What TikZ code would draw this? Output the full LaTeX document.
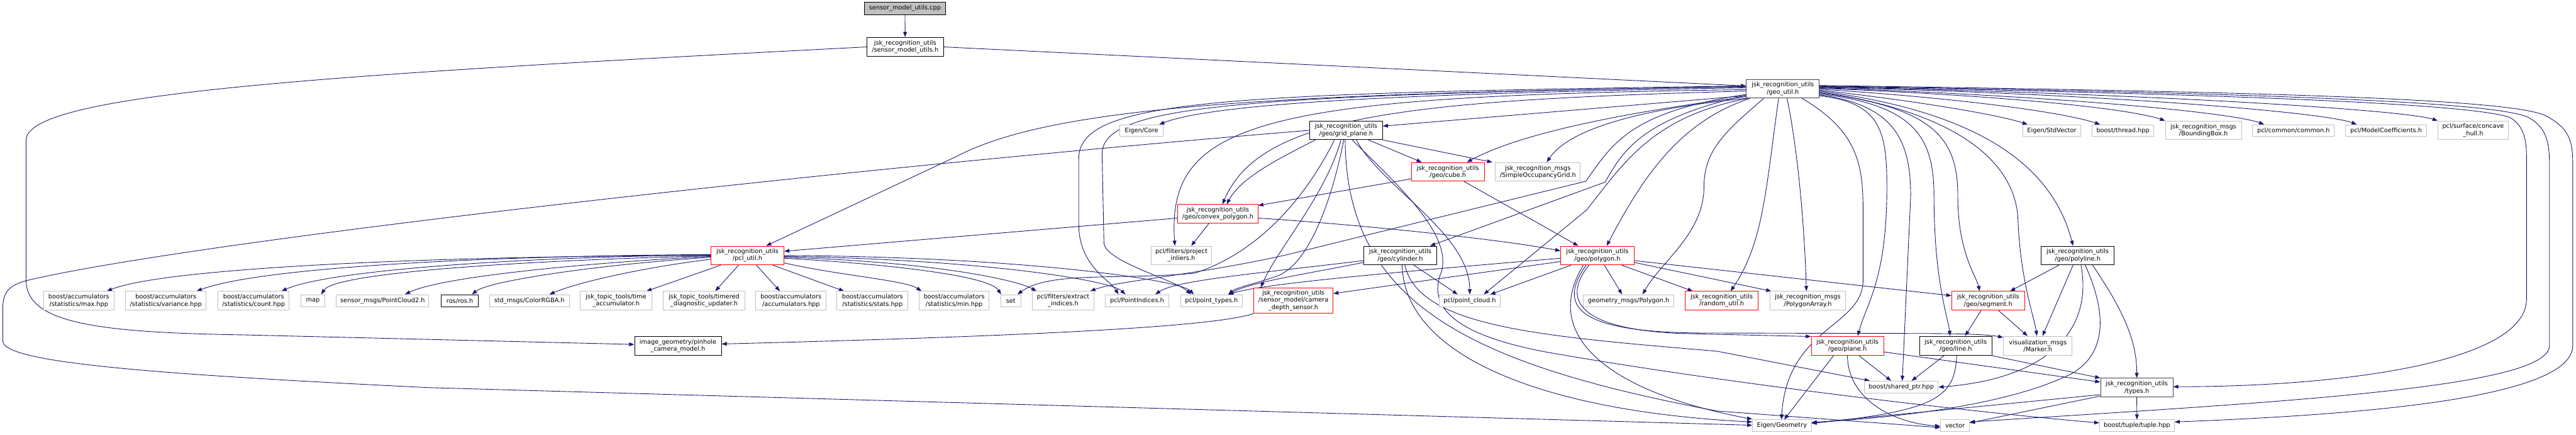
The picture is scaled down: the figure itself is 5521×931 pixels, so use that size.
\documentclass[tikz,border=0pt]{standalone}
\usepackage{fontspec}
\setmainfont{DejaVu Sans}
\usetikzlibrary{arrows.meta}
\definecolor{edgeblue}{HTML}{191970}
\definecolor{extgray}{HTML}{BFBFBF}
\definecolor{darkgr}{HTML}{404040}
\definecolor{cppfill}{HTML}{BFBFBF}
\pgfdeclarelayer{bg}
\pgfsetlayers{bg,main}
\newcommand{\nodefont}{\fontsize{13.2pt}{15pt}\selectfont}
\tikzset{
  box/.style={draw=black, line width=1.3pt, fill=white, inner sep=0pt, align=center, font=\nodefont},
  ext/.style={box, draw=extgray},
  trunc/.style={box, draw=red},
  dk/.style={box, draw=darkgr},
  sz/.style 2 args={minimum width=#1pt, minimum height=#2pt},
  e/.style={draw=edgeblue, line width=1.2pt, -{Triangle[length=11pt,width=8pt]}},
}
\begin{document}
\begin{tikzpicture}[x=1pt,y=-1pt]
\useasboundingbox (0,0) rectangle (5521,931);
% ---------------- nodes ----------------
\node[box, fill=cppfill, sz={175}{26}] (cpp) at (1939.5,18) {sensor\_model\_utils.cpp};
\node[box, sz={164}{41}] (smu) at (1940,100.5) {jsk\_recognition\_utils\\/sensor\_model\_utils.h};
\node[dk, sz={156}{40}] (geo) at (3821,190) {jsk\_recognition\_utils\\/geo\_util.h};
\node[ext, sz={93}{25}] (eigencore) at (2446.5,279.5) {Eigen/Core};
\node[box, sz={156}{40}] (gp) at (2885,279) {jsk\_recognition\_utils\\/geo/grid\_plane.h};
\node[trunc, sz={156}{40}] (cube) at (3103,368) {jsk\_recognition\_utils\\/geo/cube.h};
\node[ext, sz={182}{40}] (socc) at (3296,368) {jsk\_recognition\_msgs\\/SimpleOccupancyGrid.h};
\node[ext, sz={125}{25}] (stdvector) at (4397.5,279.5) {Eigen/StdVector};
\node[ext, sz={132}{25}] (thread) at (4550,279.5) {boost/thread.hpp};
\node[ext, sz={163}{40}] (bbox) at (4722.5,279) {jsk\_recognition\_msgs\\/BoundingBox.h};
\node[ext, sz={175}{25}] (common) at (4915.5,279.5) {pcl/common/common.h};
\node[ext, sz={174}{25}] (modelcoef) at (5114,279.5) {pcl/ModelCoefficients.h};
\node[ext, sz={151}{40}] (concave) at (5300.5,279) {pcl/surface/concave\\\_hull.h};
\node[trunc, sz={172}{40}] (convex) at (2610,458) {jsk\_recognition\_utils\\/geo/convex\_polygon.h};
\node[ext, sz={130}{40}] (projinl) at (2532,547) {pcl/filters/project\\\_inliers.h};
\node[trunc, sz={156}{40}] (pclutil) at (1602,547) {jsk\_recognition\_utils\\/pcl\_util.h};
\node[box, sz={156}{40}] (cylinder) at (3001,547) {jsk\_recognition\_utils\\/geo/cylinder.h};
\node[trunc, sz={157}{40}] (polygon) at (3423.5,547) {jsk\_recognition\_utils\\/geo/polygon.h};
\node[box, sz={156}{40}] (polyline) at (4453,547) {jsk\_recognition\_utils\\/geo/polyline.h};
\node[ext, sz={150}{40}] (max) at (169,644) {boost/accumulators\\/statistics/max.hpp};
\node[ext, sz={173}{40}] (variance) at (355.5,644) {boost/accumulators\\/statistics/variance.hpp};
\node[ext, sz={153}{40}] (count) at (543.5,644) {boost/accumulators\\/statistics/count.hpp};
\node[ext, sz={51}{26}] (map) at (670.5,644) {map};
\node[ext, sz={198}{26}] (pc2) at (820,644) {sensor\_msgs/PointCloud2.h};
\node[box, sz={79}{26}] (ros) at (985.5,644) {ros/ros.h};
\node[ext, sz={171}{26}] (colorrgba) at (1134.5,644) {std\_msgs/ColorRGBA.h};
\node[ext, sz={153}{40}] (timeacc) at (1320.5,644) {jsk\_topic\_tools/time\\\_accumulator.h};
\node[ext, sz={176}{40}] (timered) at (1509,644) {jsk\_topic\_tools/timered\\\_diagnostic\_updater.h};
\node[ext, sz={151}{40}] (accum) at (1695.5,644) {boost/accumulators\\/accumulators.hpp};
\node[ext, sz={152}{40}] (stats) at (1870,644) {boost/accumulators\\/statistics/stats.hpp};
\node[ext, sz={150}{40}] (min) at (2045,644) {boost/accumulators\\/statistics/min.hpp};
\node[ext, sz={43}{26}] (set) at (2166.5,644) {set};
\node[ext, sz={133}{40}] (extract) at (2278.5,644) {pcl/filters/extract\\\_indices.h};
\node[ext, sz={136}{26}] (pointindices) at (2437,644) {pcl/PointIndices.h};
\node[ext, sz={133}{26}] (pointtypes) at (2596.5,644) {pcl/point\_types.h};
\node[trunc, sz={170}{55}] (camdepth) at (2772,643.5) {jsk\_recognition\_utils\\/sensor\_model/camera\\\_depth\_sensor.h};
\node[ext, sz={132}{26}] (pointcloud) at (3150,644) {pcl/point\_cloud.h};
\node[ext, sz={195}{26}] (geopolygon) at (3490.5,644) {geometry\_msgs/Polygon.h};
\node[trunc, sz={156}{40}] (random) at (3690,644) {jsk\_recognition\_utils\\/random\_util.h};
\node[ext, sz={163}{40}] (polyarray) at (3874.5,644) {jsk\_recognition\_msgs\\/PolygonArray.h};
\node[trunc, sz={156}{40}] (segment) at (4261,644) {jsk\_recognition\_utils\\/geo/segment.h};
\node[box, sz={186}{41}] (pinhole) at (1453,740.5) {image\_geometry/pinhole\\\_camera\_model.h};
\node[trunc, sz={155}{41}] (plane) at (3959.5,740.5) {jsk\_recognition\_utils\\/geo/plane.h};
\node[box, sz={155}{41}] (line) at (4191.5,740.5) {jsk\_recognition\_utils\\/geo/line.h};
\node[ext, sz={147}{41}] (marker) at (4367.5,740.5) {visualization\_msgs\\/Marker.h};
\node[ext, sz={158}{26}] (sharedptr) at (4075,829) {boost/shared\_ptr.hpp};
\node[dk, sz={155}{40}] (types) at (4579.5,830) {jsk\_recognition\_utils\\/types.h};
\node[ext, sz={126}{25}] (eigengeo) at (3819,911.5) {Eigen/Geometry};
\node[ext, sz={62}{25}] (vector) at (4190,911.5) {vector};
\node[ext, sz={160}{25}] (tuple) at (4580,911.5) {boost/tuple/tuple.hpp};
% ---------------- edges ----------------
\begin{pgfonlayer}{bg}
\fill[white] (0,0) rectangle (5521,931);
% cpp / smu
\draw[e] (cpp) -- (smu);
\draw[e] (smu.east) -- ([yshift=6pt]geo.west);
\draw[e] (smu.west) .. controls (700,160) and (56,200) .. (56,300) -- (56,600) .. controls (56,690) and (200,712) .. (520,717) -- ([yshift=3pt]pinhole.west);
% grid plane loop to Eigen/Geometry
\draw[e] (gp.west) .. controls (1700,370) and (400,520) .. (60,600) .. controls (20,610) and (6,625) .. (6,660) -- (6,730) .. controls (6,775) and (300,800) .. (920,830) -- ([yshift=1pt]eigengeo.west);
% geo_util left side
\draw[e] ([yshift=2pt]geo.west) .. controls (3000,200) and (2600,222) .. ([xshift=38pt]eigencore.north);
\draw[e] ([yshift=-15pt]geo.west) -- ([yshift=9pt]gp.east);
\draw[e] ([yshift=-17pt]geo.west) .. controls (3450,245) and (3250,290) .. ([xshift=41pt]cube.north);
\draw[e] (geo.south west) .. controls (3500,235) and (3360,280) .. ([xshift=19pt]socc.north);
\draw[e] ([yshift=-5pt]geo.west) .. controls (3000,215) and (2700,250) .. ([xshift=10pt]convex.north);
\draw[e] ([yshift=4pt]geo.west) .. controls (2700,200) and (2250,230) .. (2050,335) -- ([xshift=40pt]pclutil.north);
\draw[e] ([yshift=-2pt]geo.west) .. controls (2700,205) and (2500,260) .. ([xshift=-14pt]projinl.north);
\draw[e] ([yshift=6pt]geo.west) .. controls (2600,200) and (2312,215) .. (2312,340) -- (2312,480) .. controls (2312,570) and (2380,600) .. ([xshift=-40pt]pointindices.north);
\draw[e] ([yshift=5pt]geo.west) .. controls (2650,205) and (2362,225) .. (2362,330) -- (2366,520) .. controls (2368,560) and (2520,600) .. ([xshift=-44pt]pointtypes.north);
\draw[e] ([yshift=-12pt]geo.west) .. controls (3500,240) and (3460,300) .. (3399,388) -- (2760,545) .. controls (2560,590) and (2400,600) .. ([xshift=58pt]extract.north);
\draw[e] ([yshift=-14pt]geo.west) .. controls (3520,255) and (3480,320) .. (3440,390) -- ([xshift=64pt]cylinder.north);
\draw[e] ([xshift=-75pt]geo.south) .. controls (3540,250) and (3480,350) .. (3400,450) -- ([xshift=30pt]pointcloud.north);
\draw[e] ([xshift=-70pt]geo.south) .. controls (3600,260) and (3520,380) .. ([xshift=20pt]polygon.north);
\draw[e] ([xshift=-41pt]geo.south) .. controls (3700,280) and (3652,320) .. (3652,400) .. controls (3652,500) and (3560,560) .. ([xshift=30pt]geopolygon.north);
\draw[e] ([xshift=-9pt]geo.south) .. controls (3785,400) and (3780,520) .. ([xshift=19pt]random.north);
\draw[e] ([xshift=9pt]geo.south) .. controls (3855,330) and (3868,500) .. ([xshift=-3pt]polyarray.north);
\draw[e] ([xshift=41pt]geo.south) .. controls (3980,280) and (3993,350) .. (3993,450) -- (3993,600) .. controls (3993,700) and (3830,700) .. ([xshift=-1pt]eigengeo.north);
% geo_util right side / down
\draw[e] ([yshift=-15pt]geo.east) .. controls (4030,220) and (4044,280) .. (4044,400) .. controls (4044,600) and (4000,650) .. ([xshift=22pt]plane.north);
\draw[e] ([yshift=-13pt]geo.east) .. controls (4060,225) and (4095,300) .. (4095,420) -- ([xshift=2pt]sharedptr.north);
\draw[e] ([yshift=-11pt]geo.east) .. controls (4100,225) and (4145,290) .. (4145,420) .. controls (4145,600) and (4175,680) .. ([xshift=-12pt]line.north);
\draw[e] ([yshift=-9pt]geo.east) .. controls (4150,230) and (4196,300) .. (4196,420) .. controls (4196,540) and (4235,590) .. ([xshift=-18pt]segment.north);
\draw[e] ([yshift=-7pt]geo.east) .. controls (4200,240) and (4320,350) .. (4325,470) .. controls (4330,600) and (4360,680) .. ([xshift=-2pt]marker.north);
\draw[e] ([yshift=-5pt]geo.east) .. controls (4250,240) and (4400,360) .. ([xshift=-10pt]polyline.north);
\draw[e] ([yshift=-3pt]geo.east) .. controls (4100,215) and (4280,245) .. ([xshift=-52pt]stdvector.north);
\draw[e] ([yshift=-1pt]geo.east) .. controls (4200,210) and (4420,240) .. ([xshift=-49pt]thread.north);
\draw[e] ([yshift=1pt]geo.east) .. controls (4300,205) and (4560,232) .. (bbox.north west);
\draw[e] ([yshift=2pt]geo.east) .. controls (4400,205) and (4780,240) .. ([xshift=-63pt]common.north);
\draw[e] ([yshift=3pt]geo.east) .. controls (4500,200) and (4980,240) .. ([xshift=-63pt]modelcoef.north);
\draw[e] ([yshift=4pt]geo.east) .. controls (4600,200) and (5150,235) .. (concave.north west);
\draw[e] ([yshift=5pt]geo.east) .. controls (4700,200) and (5300,220) .. (5380,252) .. controls (5410,270) and (5415,300) .. (5415,340) -- (5415,640) .. controls (5415,780) and (5000,828) .. ([yshift=2pt]types.east);
\draw[e] ([yshift=6pt]geo.east) .. controls (4750,198) and (5350,215) .. (5420,252) .. controls (5455,272) and (5464,300) .. (5464,350) -- (5464,740) .. controls (5464,830) and (4900,860) .. ([yshift=8pt]vector.east);
\draw[e] ([yshift=7pt]geo.east) .. controls (4800,196) and (5400,210) .. (5460,250) .. controls (5505,275) and (5514,300) .. (5514,350) -- (5514,740) .. controls (5514,860) and (5000,890) .. ([yshift=8pt]tuple.east);
% grid plane
\draw[e] ([xshift=-66pt]gp.south) .. controls (2740,340) and (2660,380) .. ([xshift=19pt]convex.north);
\draw[e] ([xshift=48pt]gp.south) -- ([xshift=-56pt]cube.north);
\draw[e] (gp.south east) -- ([xshift=-6pt]socc.north west);
\draw[e] ([xshift=-25pt]gp.south) .. controls (2800,420) and (2700,540) .. (2560,585) .. controls (2400,600) and (2250,580) .. ([xshift=14pt]set.north);
\draw[e] ([xshift=-11pt]gp.south) .. controls (2840,420) and (2740,530) .. ([xshift=-70pt]camdepth.north);
\draw[e] ([xshift=-5pt]gp.south) .. controls (2850,450) and (2800,565) .. (2740,590) .. controls (2700,605) and (2650,615) .. ([xshift=36pt]pointtypes.north);
\draw[e] ([xshift=-2pt]gp.south) .. controls (2885,650) and (3150,780) .. (3680,880) -- ([yshift=-4pt]vector.west);
\draw[e] ([xshift=13pt]gp.south) .. controls (3000,400) and (3110,500) .. (3090,580) .. controls (3060,650) and (3100,720) .. (3350,760) .. controls (3700,820) and (4200,880) .. ([yshift=6pt]tuple.west);
\draw[e] ([xshift=22pt]gp.south) .. controls (2960,400) and (3150,500) .. (pointcloud.north);
% cube, convex
\draw[e] ([xshift=35pt]cube.south) -- ([xshift=-41pt]polygon.north);
\draw[e] ([yshift=-15pt]cube.west) -- ([yshift=18pt]convex.east);
\draw[e] ([yshift=-9pt]convex.west) -- ([yshift=9pt]pclutil.east);
\draw[e] ([xshift=-19pt]convex.south) -- ([xshift=21pt]projinl.north);
\draw[e] ([yshift=-9pt]convex.east) .. controls (2900,480) and (3200,510) .. ([yshift=10pt]polygon.west);
% cylinder
\draw[e] ([yshift=-11pt]cylinder.west) .. controls (2700,585) and (2520,600) .. ([xshift=39pt]pointindices.north);
\draw[e] ([yshift=-15pt]cylinder.west) .. controls (2780,590) and (2680,605) .. ([xshift=36pt]pointtypes.north);
\draw[e] ([xshift=29pt]cylinder.south) -- ([xshift=-26pt]pointcloud.north);
\draw[e] ([xshift=4pt]cylinder.south) .. controls (3010,760) and (3300,880) .. ([yshift=8pt]eigengeo.west);
\draw[e] ([xshift=10pt]cylinder.south) .. controls (3040,700) and (3300,720) .. (3680,752) -- ([xshift=12pt]sharedptr.north west);
% polygon
\draw[e] ([xshift=-56pt]polygon.south) -- ([xshift=44pt]pointcloud.north);
\draw[e] ([xshift=15pt]polygon.south) -- ([xshift=-14pt]geopolygon.north);
\draw[e] ([xshift=52pt]polygon.south) -- ([xshift=-62pt]random.north);
\draw[e] ([yshift=-11pt]polygon.east) -- ([yshift=11pt]segment.west);
\draw[e] ([yshift=-15pt]polygon.east) -- ([xshift=4pt]polyarray.north west);
\draw[e] ([yshift=-13pt]polygon.west) -- ([yshift=15pt]camdepth.east);
\draw[e] ([yshift=-6pt]polygon.west) .. controls (2900,590) and (2700,610) .. ([xshift=36pt]pointtypes.north);
\draw[e] ([xshift=-18pt]polygon.south) .. controls (3340,650) and (3400,705) .. (3600,714) -- ([yshift=20pt]plane.west);
\draw[e] ([xshift=-24pt]polygon.south) .. controls (3330,665) and (3400,712) .. (3650,713) -- (4100,714) .. controls (4200,714) and (4260,716) .. ([yshift=18pt]marker.west);
\draw[e] ([xshift=-30pt]polygon.south) .. controls (3300,720) and (3450,840) .. ([yshift=14pt]eigengeo.west);
% pcl_util
\draw[e] (pclutil.west) .. controls (900,548) and (350,575) .. ([xshift=60pt]max.north);
\draw[e] ([yshift=2pt]pclutil.west) .. controls (1000,548) and (550,575) .. ([xshift=66pt]variance.north);
\draw[e] ([yshift=1pt]pclutil.west) .. controls (1100,550) and (700,580) .. ([xshift=60pt]count.north);
\draw[e] ([yshift=-1pt]pclutil.west) .. controls (1200,555) and (720,580) .. ([xshift=18pt]map.north);
\draw[e] ([yshift=-2pt]pclutil.west) .. controls (1300,560) and (950,590) .. ([xshift=48pt]pc2.north);
\draw[e] ([yshift=-4pt]pclutil.west) .. controls (1300,565) and (1050,600) .. ([xshift=26pt]ros.north);
\draw[e] ([yshift=-8pt]pclutil.west) .. controls (1400,570) and (1250,600) .. ([xshift=43pt]colorrgba.north);
\draw[e] ([xshift=-57pt]pclutil.south) -- ([xshift=65pt]timeacc.north);
\draw[e] ([xshift=-19pt]pclutil.south) -- ([xshift=24pt]timered.north);
\draw[e] ([xshift=19pt]pclutil.south) -- ([xshift=-24pt]accum.north);
\draw[e] ([xshift=54pt]pclutil.south) -- ([xshift=-61pt]stats.north);
\draw[e] ([yshift=-16pt]pclutil.east) .. controls (1800,590) and (1940,600) .. ([xshift=-70pt]min.north);
\draw[e] ([yshift=-6pt]pclutil.east) .. controls (1900,565) and (2120,590) .. ([xshift=-21pt]set.north);
\draw[e] ([yshift=-4pt]pclutil.east) .. controls (2000,560) and (2180,600) .. ([xshift=-57pt]extract.north);
\draw[e] ([yshift=-2pt]pclutil.east) .. controls (2100,555) and (2380,600) .. ([xshift=-25pt]pointindices.north);
\draw[e] (pclutil.east) .. controls (2200,550) and (2530,600) .. ([xshift=-38pt]pointtypes.north);
% camera depth sensor
\draw[e] (camdepth.south west) .. controls (2600,700) and (2200,720) .. ([yshift=4pt]pinhole.east);
% plane
\draw[e] ([xshift=25pt]plane.south) -- ([xshift=-22pt]sharedptr.north);
\draw[e] ([xshift=-30pt]plane.south) -- ([xshift=5pt]eigengeo.north);
\draw[e] (plane.south) .. controls (3960,850) and (4050,905) .. ([yshift=-1pt]vector.west);
\draw[e] ([yshift=-13pt]plane.east) -- ([yshift=12pt]types.west);
% line
\draw[e] ([xshift=-25pt]line.south) -- ([xshift=22pt]sharedptr.north);
\draw[e] (line.south east) -- (types.north west);
\draw[e] ([xshift=2pt]line.south) .. controls (4190,850) and (4150,880) .. ([yshift=5pt]eigengeo.east);
% segment
\draw[e] ([xshift=-15pt]segment.south) -- ([xshift=20pt]line.north);
\draw[e] ([xshift=22pt]segment.south) -- ([xshift=-22pt]marker.north);
% polyline
\draw[e] ([xshift=-40pt]polyline.south) -- ([xshift=47pt]segment.north);
\draw[e] ([xshift=-10pt]polyline.south) -- ([xshift=10pt]marker.north);
\draw[e] ([xshift=7pt]polyline.south) .. controls (4485,700) and (4400,810) .. (sharedptr.east);
\draw[e] ([xshift=16pt]polyline.south) .. controls (4520,680) and (4510,760) .. (4440,800) .. controls (4300,870) and (4050,895) .. ([yshift=7pt]eigengeo.east);
\draw[e] ([xshift=32pt]polyline.south) .. controls (4540,650) and (4580,720) .. (types.north);
% types
\draw[e] ([yshift=-15pt]types.west) -- ([yshift=6pt]eigengeo.east);
\draw[e] ([yshift=-18pt]types.west) -- ([yshift=6pt]vector.east);
\draw[e] (types.south) -- (tuple.north);
\end{pgfonlayer}
\end{tikzpicture}
\end{document}
